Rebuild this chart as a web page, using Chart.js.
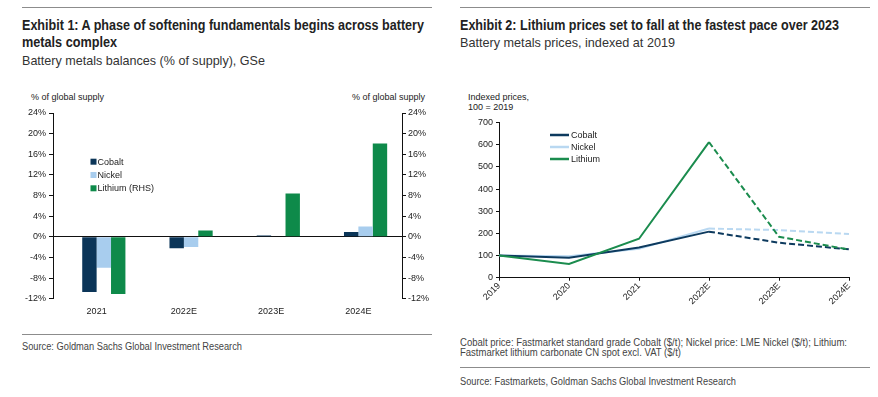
<!DOCTYPE html>
<html><head><meta charset="utf-8">
<script src="https://cdn.jsdelivr.net/npm/chart.js@4.4.1/dist/chart.umd.min.js"></script>
<style>
body{margin:0;width:878px;height:397px;background:#fff;position:relative;overflow:hidden;font-family:"Liberation Sans",Arial,sans-serif;}
.abs{position:absolute;white-space:nowrap;transform-origin:0 50%;}
.rule{position:absolute;height:0;border-top:1px solid #8c8c8c;}
.t{font-weight:bold;font-size:14.5px;color:#222;line-height:17px;}
.s{font-size:13px;color:#333;line-height:16px;}
.f{font-size:10px;color:#444;line-height:11px;}
.lab{font-size:9px;color:#222;line-height:10px;}
canvas{position:absolute;}
</style></head>
<body>
<div class="rule" style="left:22px;top:7px;width:410px"></div>
<div class="rule" style="left:460px;top:7px;width:410px"></div>
<div class="abs t fit" data-w="402" style="left:22px;top:17px">Exhibit 1: A phase of softening fundamentals begins across battery</div>
<div class="abs t fit" data-w="95" style="left:22px;top:34px">metals complex</div>
<div class="abs s fit" data-w="243" style="left:22px;top:53px">Battery metals balances (% of supply), GSe</div>
<div class="abs t fit" data-w="379" style="left:460px;top:17px">Exhibit 2: Lithium prices set to fall at the fastest pace over 2023</div>
<div class="abs s fit" data-w="215" style="left:460px;top:35px">Battery metals prices, indexed at 2019</div>

<div class="abs lab" style="left:31px;top:92px">% of global supply</div>
<div class="abs lab" style="right:453px;top:92px;text-align:right">% of global supply</div>
<div class="abs lab" style="left:468px;top:92px">Indexed prices,<br>100 = 2019</div>

<div style="position:absolute;left:0;top:100px;width:440px;height:220px"><canvas id="c1"></canvas></div>
<div style="position:absolute;left:440px;top:100px;width:438px;height:230px"><canvas id="c2"></canvas></div>

<div class="rule" style="left:22px;top:334px;width:410px"></div>
<div class="abs f fit" data-w="220" style="left:22px;top:341px">Source: Goldman Sachs Global Investment Research</div>
<div class="abs f fit" data-w="387" style="left:460px;top:337px">Cobalt price: Fastmarket standard grade Cobalt ($/t); Nickel price: LME Nickel ($/t); Lithium:</div>
<div class="abs f fit" data-w="221" style="left:460px;top:347px">Fastmarket lithium carbonate CN spot excl. VAT ($/t)</div>
<div class="rule" style="left:460px;top:367px;width:410px"></div>
<div class="abs f fit" data-w="276" style="left:460px;top:376px">Source: Fastmarkets, Goldman Sachs Global Investment Research</div>

<script>
// ---- Exhibit 1 data ----
const balanceYears = ['2021', '2022E', '2023E', '2024E'];
const cobaltBalance = [-10.7, -2.2, 0.25, 0.95];
const nickelBalance = [-6.0, -2.0, 0, 2.0];
const lithiumBalance = [-11.1, 1.2, 8.4, 18.1];
const balanceTicks = [-12, -8, -4, 0, 4, 8, 12, 16, 20, 24];

// ---- Exhibit 2 data ----
const priceYears = ['2019', '2020', '2021', '2022E', '2023E', '2024E'];
const cobaltPrice = [100, 90, 136, 208, 158, 128];
const nickelPrice = [100, 97, 131, 222, 215, 197];
const lithiumPrice = [100, 62, 176, 612, 185, 127];
const priceTicks = [0, 100, 200, 300, 400, 500, 600, 700];

// condense header/footer text to the reference widths (narrow font not installed)
document.querySelectorAll('.fit').forEach(el => {
  const w = el.getBoundingClientRect().width;
  const target = +el.dataset.w;
  if (w > 0) el.style.transform = 'scaleX(' + (target / w) + ')';
});

const C_COBALT = '#0b3558', C_NICKEL = '#a8cdee', C_LITHIUM = '#0e8a4a';
const L_COBALT = '#0d3a5e', L_NICKEL = '#b9d8f1', L_LITHIUM = '#1b8c4e';
const FONT = {family: '"Liberation Sans", Arial, sans-serif', size: 9};
Chart.defaults.font = FONT;
Chart.defaults.color = '#222';

const boxLegend = {
  id: 'boxLegend',
  afterDraw(chart, args, o) {
    if (!o || !o.on) return;
    const ctx = chart.ctx;
    ctx.save();
    ctx.font = '9px "Liberation Sans", Arial, sans-serif';
    ctx.textBaseline = 'middle';
    let y = o.y;
    chart.data.datasets.forEach(ds => {
      if (!ds.label) return;
      if (o.kind === 'box') {
        ctx.fillStyle = ds.backgroundColor;
        ctx.fillRect(o.x, y - 3, 6, 6);
        ctx.fillStyle = '#222';
        ctx.fillText(ds.label, o.x + 7, y + 0.5);
      } else {
        ctx.strokeStyle = ds.borderColor;
        ctx.lineWidth = 2.5;
        ctx.beginPath(); ctx.moveTo(o.x, y); ctx.lineTo(o.x + 19, y); ctx.stroke();
        ctx.fillStyle = '#222';
        ctx.fillText(ds.label, o.x + 21, y + 0.5);
      }
      y += o.step;
    });
    ctx.restore();
  }
};

new Chart(document.getElementById('c1'), {
  type: 'bar',
  plugins: [boxLegend],
  data: {
    labels: balanceYears,
    datasets: [
      {label: '', data: balanceYears.map(() => null), backgroundColor: 'rgba(0,0,0,0)', yAxisID: 'y'},
      {label: 'Cobalt', data: cobaltBalance, backgroundColor: C_COBALT, yAxisID: 'y'},
      {label: 'Nickel', data: nickelBalance, backgroundColor: C_NICKEL, yAxisID: 'y'},
      {label: 'Lithium (RHS)', data: lithiumBalance, backgroundColor: C_LITHIUM, yAxisID: 'y2'}
    ]
  },
  options: {
    responsive: true, maintainAspectRatio: false, animation: false,
    layout: {padding: {top: 13, left: 0, right: 0, bottom: 0}},
    categoryPercentage: 0.66, barPercentage: 1.0,
    plugins: {legend: {display: false}, tooltip: {enabled: false},
      boxLegend: {on: true, kind: 'box', x: 90.5, y: 61.7, step: 13.3}},
    scales: {
      x: {offset: true, grid: {display: false, drawTicks: false}, border: {display: false},
        ticks: {padding: 7, maxRotation: 0, font: FONT},
        afterFit(s) { s.height = 21.3; }},
      y: {position: 'left', min: -12, max: 24, afterBuildTicks(s) { s.ticks = balanceTicks.map(v => ({value: v})); },
        grid: {color: c => (c.tick && c.tick.value === 0) ? '#111' : 'rgba(0,0,0,0)', lineWidth: 1, tickColor: '#111', tickLength: 4},
        border: {display: true, color: '#111'},
        ticks: {padding: 3, callback: v => v + '%', font: FONT},
        afterFit(s) { s.width = 53; }},
      y2: {position: 'right', min: -12, max: 24, afterBuildTicks(s) { s.ticks = balanceTicks.map(v => ({value: v})); },
        grid: {drawOnChartArea: false, tickColor: '#111', tickLength: 4},
        border: {display: true, color: '#111'},
        ticks: {padding: 2, callback: v => v + '%', font: FONT},
        afterFit(s) { s.width = 38; }}
    }
  }
});

const dashAfter = 3;
const seg = {borderDash: c => c.p0DataIndex >= dashAfter ? [6, 3] : undefined};

new Chart(document.getElementById('c2'), {
  type: 'line',
  plugins: [boxLegend],
  data: {
    labels: priceYears,
    datasets: [
      {label: 'Cobalt', data: cobaltPrice, borderColor: L_COBALT, backgroundColor: L_COBALT, segment: seg, order: 1},
      {label: 'Nickel', data: nickelPrice, borderColor: L_NICKEL, backgroundColor: L_NICKEL, segment: seg, order: 2},
      {label: 'Lithium', data: lithiumPrice, borderColor: L_LITHIUM, backgroundColor: L_LITHIUM, segment: seg, order: 0}
    ]
  },
  options: {
    responsive: true, maintainAspectRatio: false, animation: false,
    layout: {padding: {top: 22.7, left: 0, right: 29, bottom: 0}},
    elements: {point: {radius: 0}, line: {borderWidth: 2, tension: 0}},
    plugins: {legend: {display: false}, tooltip: {enabled: false},
      boxLegend: {on: true, kind: 'line', x: 110, y: 35, step: 12}},
    scales: {
      x: {offset: false, grid: {drawOnChartArea: false, tickColor: '#111', tickLength: 3},
        border: {display: true, color: '#111'},
        ticks: {minRotation: 45, maxRotation: 45, padding: 0, font: FONT},
        afterFit(s) { s.height = 52.3; }},
      y: {min: 0, max: 700, afterBuildTicks(s) { s.ticks = priceTicks.map(v => ({value: v})); },
        grid: {drawOnChartArea: false, tickColor: '#111', tickLength: 3},
        border: {display: true, color: '#111'},
        ticks: {padding: 3, font: FONT},
        afterFit(s) { s.width = 59; }}
    }
  }
});
</script>
</body></html>
